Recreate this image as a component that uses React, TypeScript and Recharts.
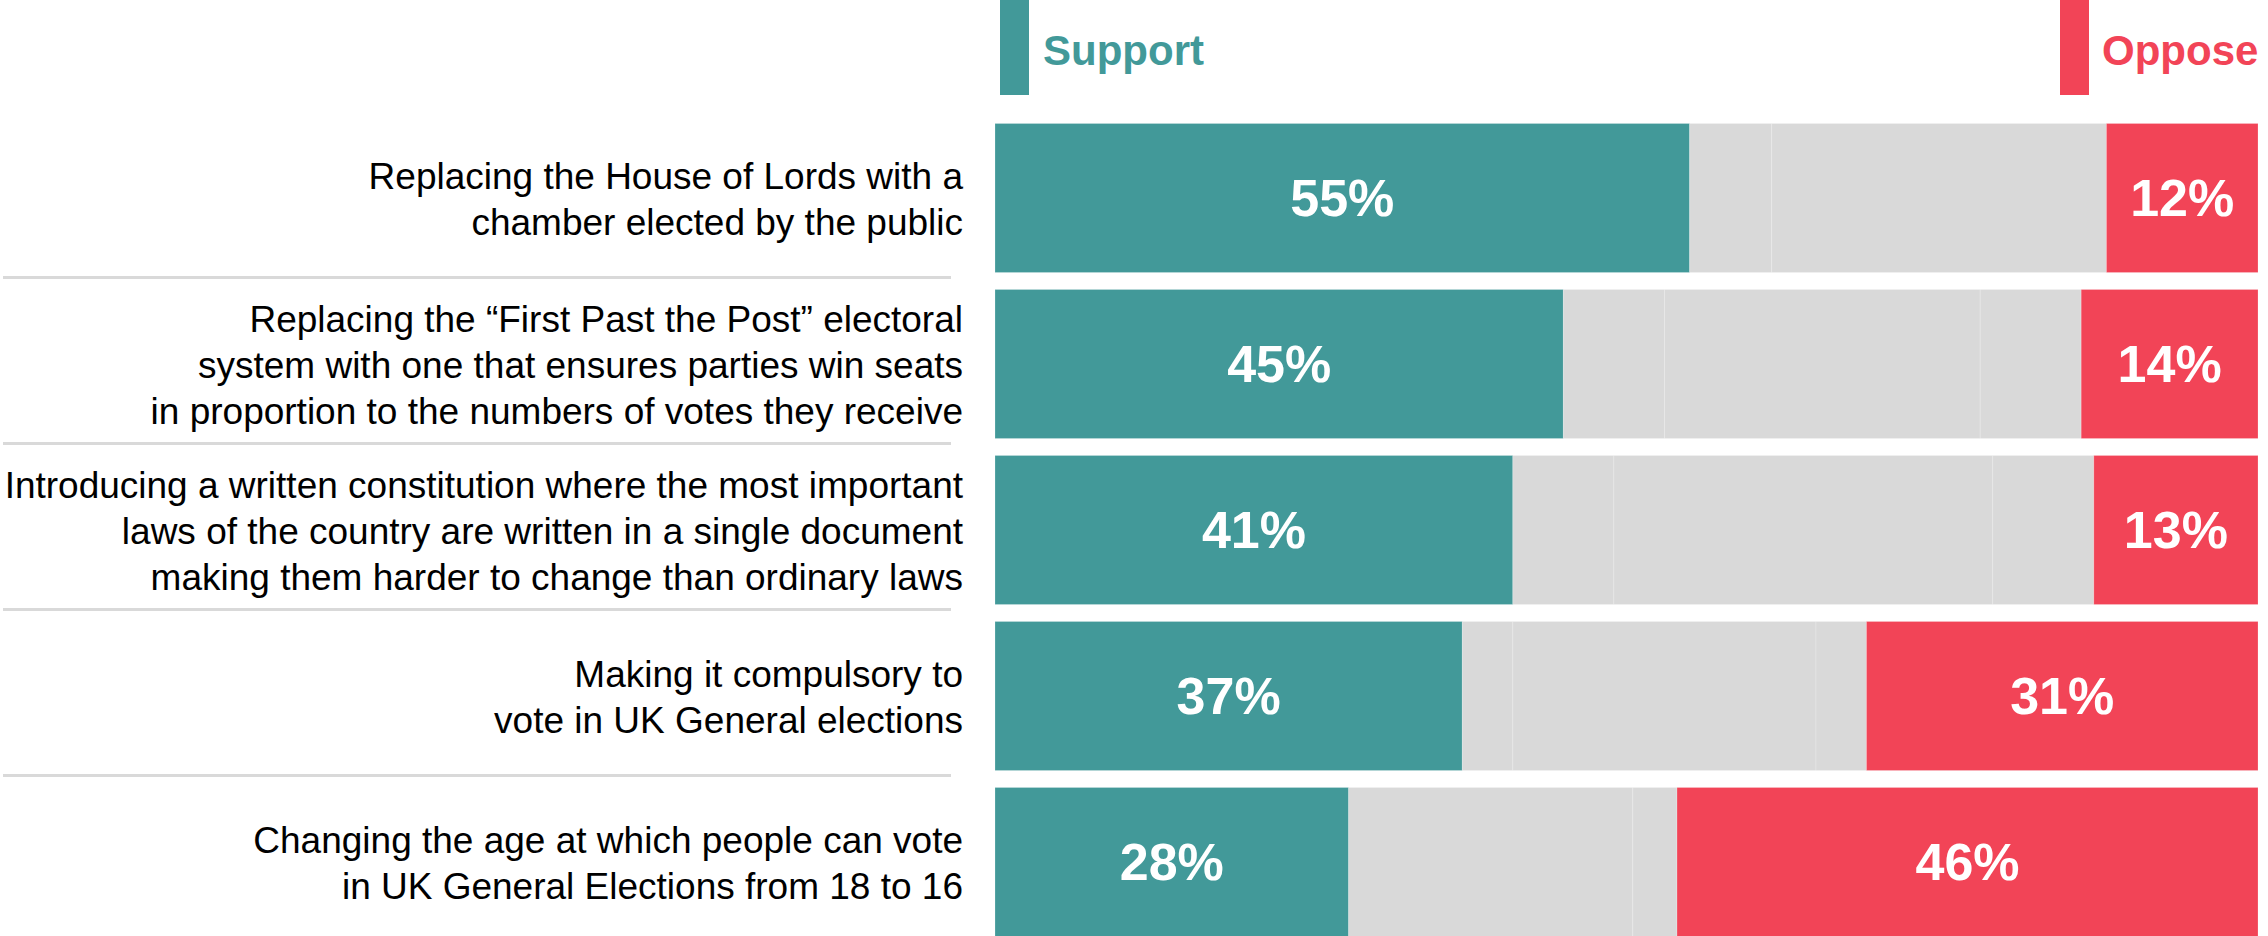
import React from "react";
import { BarChart, Bar, XAxis, YAxis, LabelList } from "recharts";

const categories = [
  "Replacing the House of Lords with a\nchamber elected by the public",
  "Replacing the \u201cFirst Past the Post\u201d electoral\nsystem with one that ensures parties win seats\nin proportion to the numbers of votes they receive",
  "Introducing a written constitution where the most important\nlaws of the country are written in a single document\nmaking them harder to change than ordinary laws",
  "Making it compulsory to\nvote in UK General elections",
  "Changing the age at which people can vote\nin UK General Elections from 18 to 16",
];
const support = [55, 45, 41, 37, 28];
const neutralA = [6.5, 8, 8, 4, 22.5];
const neutralB = [26.5, 25, 30, 24, 3.5];
const neutralC = [0, 8, 8, 4, 0];
const oppose = [12, 14, 13, 31, 46];
const legendLabels = ["Support", "Oppose"];

const TEAL = "#429999";
const RED = "#F24457";
const GREY = "#D9D9D9";
const FONT = "'Liberation Sans', Arial, Helvetica, sans-serif";

const data = categories.map((name, i) => ({
  name,
  support: support[i],
  neutralA: neutralA[i],
  neutralB: neutralB[i],
  neutralC: neutralC[i],
  oppose: oppose[i],
}));

const CategoryTick = (props: any) => {
  const { x, y, payload, index } = props;
  const lines: string[] = String(payload.value).split("\n");
  const n = lines.length;
  const lh = 46;
  return (
    <g>
      <text x={x} y={y} textAnchor="end" fontSize={37} fill="#000" fontFamily={FONT}>
        {lines.map((l, i) => (
          <tspan key={i} x={x} y={y + (i - (n - 1) / 2) * lh} dy="0.38em">
            {l}
          </tspan>
        ))}
      </text>
      {index < categories.length - 1 && (
        <line x1={3} x2={951} y1={y + 80} y2={y + 80} stroke="#D9D9D9" strokeWidth={3} />
      )}
    </g>
  );
};

const pct = (v: any) => `${v}%`;

export default function App() {
  const barStroke = { stroke: "#ffffff", strokeOpacity: 0.2, strokeWidth: 1 };
  return (
    <div
      style={{
        position: "absolute",
        left: 0,
        top: 0,
        width: 2268,
        height: 936,
        overflow: "hidden",
        background: "#fff",
        fontFamily: FONT,
      }}
    >
      <style>{`html,body{margin:0;padding:0;overflow:hidden;background:#fff}`}</style>
      <div style={{ position: "absolute", left: 1000, top: 0, width: 29, height: 95, background: TEAL }} />
      <div
        style={{
          position: "absolute",
          left: 1043,
          top: 27,
          fontSize: 42,
          fontWeight: "bold",
          color: TEAL,
          lineHeight: "48px",
          fontFamily: FONT,
        }}
      >
        {legendLabels[0]}
      </div>
      <div style={{ position: "absolute", left: 2060, top: 0, width: 29, height: 95, background: RED }} />
      <div
        style={{
          position: "absolute",
          left: 2102,
          top: 27,
          fontSize: 42,
          fontWeight: "bold",
          color: RED,
          lineHeight: "48px",
          fontFamily: FONT,
        }}
      >
        {legendLabels[1]}
      </div>
      <div style={{ position: "absolute", left: 0, top: 0 }}>
        <BarChart
          width={2268}
          height={945}
          data={data}
          layout="vertical"
          margin={{ top: 114.5, right: 10, bottom: 0.5, left: 0 }}
          barSize={149}
        >
          <XAxis type="number" domain={[0, 100]} hide />
          <YAxis
            type="category"
            dataKey="name"
            width={995}
            tickLine={false}
            axisLine={false}
            tickSize={0}
            tickMargin={32}
            interval={0}
            tick={<CategoryTick />}
          />
          <Bar dataKey="support" stackId="a" fill={TEAL} {...barStroke} isAnimationActive={false}>
            <LabelList
              dataKey="support"
              position="center"
              fill="#fff"
              fontSize={52}
              fontWeight="bold"
              fontFamily={FONT}
              formatter={pct}
            />
          </Bar>
          <Bar dataKey="neutralA" stackId="a" fill={GREY} {...barStroke} isAnimationActive={false} />
          <Bar dataKey="neutralB" stackId="a" fill={GREY} {...barStroke} isAnimationActive={false} />
          <Bar dataKey="neutralC" stackId="a" fill={GREY} {...barStroke} isAnimationActive={false} />
          <Bar dataKey="oppose" stackId="a" fill={RED} {...barStroke} isAnimationActive={false}>
            <LabelList
              dataKey="oppose"
              position="center"
              fill="#fff"
              fontSize={52}
              fontWeight="bold"
              fontFamily={FONT}
              formatter={pct}
            />
          </Bar>
        </BarChart>
      </div>
    </div>
  );
}
